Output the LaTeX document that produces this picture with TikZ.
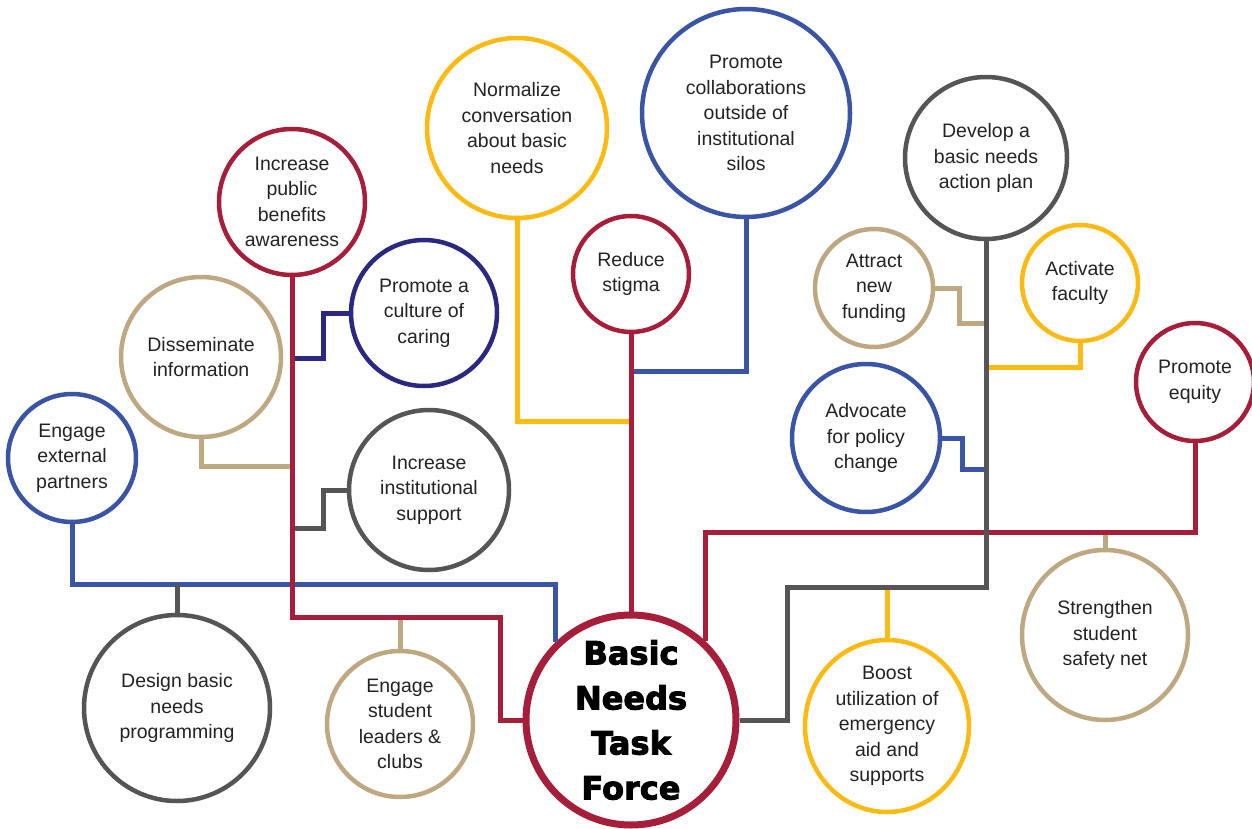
\documentclass[tikz,border=0pt]{standalone}
\usepackage{fontspec}
\setmainfont{Liberation Sans}
\newfontfamily\heavyfont{DejaVu Sans}[BoldFeatures={FakeBold=3}]
\usetikzlibrary{calc,shapes.geometric}
\definecolor{cred}{RGB}{166,30,58}
\definecolor{cblue}{RGB}{58,84,166}
\definecolor{cnavy}{RGB}{42,40,128}
\definecolor{cgold}{RGB}{253,186,18}
\definecolor{ctan}{RGB}{190,168,130}
\definecolor{cgray}{RGB}{85,85,85}
\definecolor{ctext}{RGB}{35,35,35}
\begin{document}
\begin{tikzpicture}[x=1pt,y=-1pt,
  bub/.style={circle, draw=#1, line width=4.5pt, fill=white, inner sep=0pt, align=center, text=ctext, font=\fontsize{19.5}{25.5}\selectfont},
  ebub/.style={ellipse, draw=#1, line width=4.5pt, fill=white, inner sep=0pt, align=center, text=ctext, font=\fontsize{19.5}{25.5}\selectfont},
  link/.style={draw=#1, line width=5pt, line join=miter}]
\fill[white] (0,0) rectangle (1252,829);
\useasboundingbox (0,0) rectangle (1252,829);

% nodes
\node[bub=cred, minimum size=210pt, line width=7pt, text=black, font=\heavyfont\bfseries\fontsize{32}{45}\selectfont] (core) at (631,720) {Basic\\Needs\\Task\\Force};
\node[bub=cred, minimum size=116pt] (stigma) at (631,274) {Reduce\\stigma};
\node[bub=cblue, minimum size=208pt] (collab) at (746,113) {Promote\\collaborations\\outside of\\institutional\\silos};
\node[bub=cgold, minimum size=180pt] (norm) at (517,128) {Normalize\\conversation\\about basic\\needs};
\node[bub=cred, minimum size=146pt] (pub) at (292,202) {Increase\\public\\benefits\\awareness};
\node[bub=cnavy, minimum size=146pt] (culture) at (424,313) {Promote a\\culture of\\caring};
\node[bub=ctan, minimum size=160pt] (dissem) at (201,357) {Disseminate\\information};
\node[bub=cgray, minimum size=160pt] (inst) at (429,490) {Increase\\institutional\\support};
\node[bub=cblue, minimum size=128pt] (ext) at (72,458) {Engage\\external\\partners};
\node[bub=cgray, minimum size=186pt] (design) at (177,708) {Design basic\\needs\\programming};
\node[bub=ctan, minimum size=146pt] (student) at (400,724) {Engage\\student\\leaders \&\\clubs};
\node[ebub=cgold, minimum width=164pt, minimum height=172pt] (boost) at (887,726) {Boost\\utilization of\\emergency\\aid and\\supports};
\node[ebub=ctan, minimum width=166pt, minimum height=170pt] (safety) at (1105,635) {Strengthen\\student\\safety net};
\node[bub=cred, minimum size=118pt] (equity) at (1195,382) {Promote\\equity};
\node[bub=cblue, minimum size=148pt] (advocate) at (866,438) {Advocate\\for policy\\change};
\node[bub=ctan, minimum size=118pt] (attract) at (874,288) {Attract\\new\\funding};
\node[bub=cgold, minimum size=116pt] (faculty) at (1080,283) {Activate\\faculty};
\node[bub=cgray, minimum size=162pt] (develop) at (986,158) {Develop a\\basic needs\\action plan};

% levels
\coordinate (yC) at (0,371);
\coordinate (yN) at (0,421);
\coordinate (yP) at (0,617);
\coordinate (yB) at (0,584);
\coordinate (yCu) at (0,358);
\coordinate (yD) at (0,466);
\coordinate (yI) at (0,528);
\coordinate (yR) at (0,532);
\coordinate (yG) at (0,587);
\coordinate (yA) at (0,323);
\coordinate (yF) at (0,367);
\coordinate (yV) at (0,469);
\coordinate (xRedL) at (500,0);
\coordinate (xG) at (787,0);
\coordinate (xCu) at (323,0);
\coordinate (xA) at (959,0);
\coordinate (xV) at (962,0);

% connectors
\draw[link=cblue] (ext.south) |- (core.134 |- yB) -- (core.134);
\draw[link=cgray] (design.north) -- (design.north |- yB);
\draw[link=ctan] (student.north) -- (student.north |- yP);
\draw[link=cnavy] (culture.west) -| (xCu |- yCu) -- (pub.south |- yCu);
\draw[link=ctan] (dissem.south) |- (pub.south |- yD);
\draw[link=cgray] (inst.west) -| (xCu |- yI) -- (pub.south |- yI);
\draw[link=cred] (pub.south) |- (xRedL |- yP) |- (core.west);
\draw[link=cgold] (norm.south) |- (stigma.south |- yN);
\draw[link=cblue] (collab.south) |- (stigma.south |- yC);
\draw[link=cred] (stigma.south) -- (core.north);
\draw[link=ctan] (safety.north) -- (safety.north |- yR);
\draw[link=cred] (core.47) |- (equity.south |- yR) -- (equity.south);
\draw[link=cgold] (boost.north) -- (boost.north |- yG);
\draw[link=ctan] (attract.east) -| (xA |- yA) -- (develop.south |- yA);
\draw[link=cgold] (faculty.south) |- (develop.south |- yF);
\draw[link=cblue] (advocate.east) -| (xV |- yV) -- (develop.south |- yV);
\draw[link=cgray] (core.east) -| (xG |- yG) -| (develop.south);
\end{tikzpicture}
\end{document}
